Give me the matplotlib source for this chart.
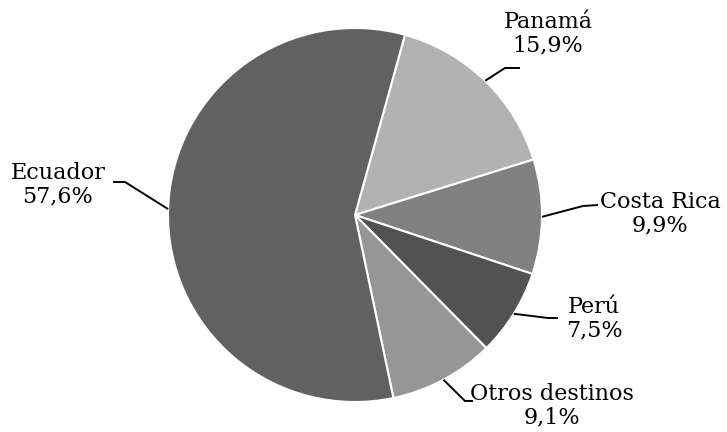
import numpy as np
import matplotlib.pyplot as plt

# destinos y porcentajes
labels = ['Panamá', 'Costa Rica', 'Perú', 'Otros destinos', 'Ecuador']
values = [15.9, 9.9, 7.5, 9.1, 57.6]
pct_text = ['15,9%', '9,9%', '7,5%', '9,1%', '57,6%']
colors = ['#b2b2b2', '#808080', '#525252', '#969696', '#616161']

W, H = 727, 432
cx, cy, R = 355, 215, 187  # pie centre / radius in px


def px(x, y):
    # pixel position -> data units (pie radius = 1)
    return (x - cx) / R, (cy - y) / R


fig = plt.figure(figsize=(W / 100, H / 100), dpi=100)
ax = fig.add_axes([0, 0, 1, 1])

wedges, _ = ax.pie(values, colors=colors, startangle=74.5, counterclock=False,
                   radius=1, center=(0, 0), frame=True,
                   wedgeprops=dict(edgecolor='white', linewidth=1.5))
ax.set_xlim(-cx / R, (W - cx) / R)
ax.set_ylim(-(H - cy) / R, cy / R)
ax.axis('off')

# elbow point, end of horizontal stub, text centre, for each label (px)
layout = {
    'Panamá': ((505, 68), (520, 68), (548, 34)),
    'Costa Rica': ((583, 206), (598, 205), (660, 214)),
    'Perú': ((548, 318), (558, 318), (594, 319)),
    'Otros destinos': ((465, 401), (473, 401), (552, 406)),
    'Ecuador': ((125, 182), (113, 182), (58, 185)),
}

for w, lab, pct in zip(wedges, labels, pct_text):
    ang = np.deg2rad((w.theta1 + w.theta2) / 2)
    x0, y0 = np.cos(ang), np.sin(ang)
    elbow, stub, txt = layout[lab]
    ex, ey = px(*elbow)
    sx, sy = px(*stub)
    ax.plot([x0, ex, sx], [y0, ey, sy], color='black', lw=1.4,
            solid_capstyle='butt')
    tx, ty = px(*txt)
    ax.text(tx, ty, lab + '\n' + pct, ha='center', va='center',
            fontsize=16, family='DejaVu Serif', linespacing=1.1)

fig.savefig('out.png', dpi=100)
